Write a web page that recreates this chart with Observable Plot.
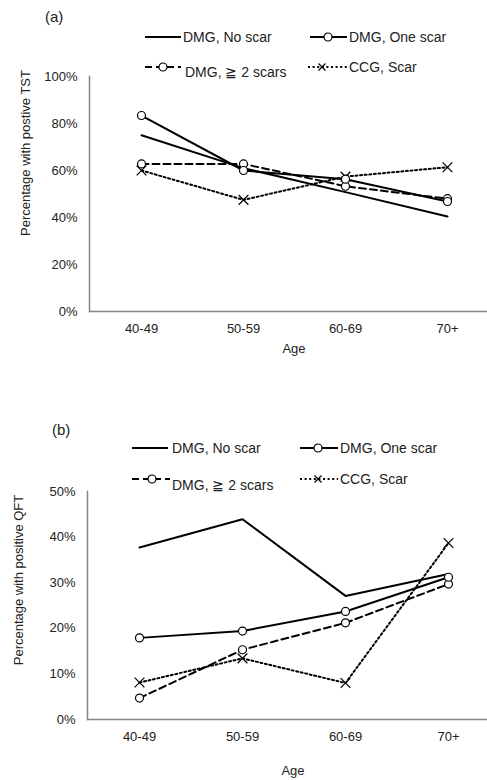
<!DOCTYPE html>
<html>
<head>
<meta charset="utf-8">
<script src="https://cdn.jsdelivr.net/npm/d3@7"></script>
<script src="https://cdn.jsdelivr.net/npm/@observablehq/plot@0.6"></script>
<style>
  body { margin: 0; background: #fff; }
  #wrap { position: relative; width: 487px; height: 780px; overflow: hidden; font-family: "Liberation Sans", Arial, sans-serif; color: #222; }
  .abs { position: absolute; white-space: nowrap; line-height: 1; }
  .vc { transform: translateY(-50%); }
  .plot { position: absolute; left: 0; }
  .rot { position: absolute; white-space: nowrap; font-size: 13px; line-height: 1; transform: translate(-50%, -50%) rotate(-90deg); }
</style>
</head>
<body>
<div id="wrap"></div>
<script>
const ages = ["40-49", "50-59", "60-69", "70+"];
const seriesNames = ["DMG, No scar", "DMG, One scar", "DMG, \u2267 2 scars", "CCG, Scar"];

// Panel (a): percentage with positive TST
const tstNoScar   = [75.0, 61.0, 50.8, 40.4];
const tstOneScar  = [83.4, 60.0, 56.3, 46.8];
const tstTwoScars = [62.8, 62.8, 53.3, 48.0];
const tstCCG      = [60.0, 47.5, 57.4, 61.4];
const tstTicks = [0, 20, 40, 60, 80, 100];

// Panel (b): percentage with positive QFT
const qftNoScar   = [37.7, 43.9, 27.1, 31.9];
const qftOneScar  = [17.9, 19.4, 23.7, 31.2];
const qftTwoScars = [4.7, 15.3, 21.2, 29.7];
const qftCCG      = [8.1, 13.4, 8.0, 38.7];
const qftTicks = [0, 10, 20, 30, 40, 50];

const wrap = document.getElementById("wrap");
const rows = vals => ages.map((a, i) => ({age: a, v: vals[i]}));

function makePanel(cfg) {
  const [no, one, two, ccg] = cfg.series.map(rows);
  const chart = Plot.plot({
    width: 487,
    height: cfg.height,
    marginTop: cfg.marginTop,
    marginBottom: cfg.marginBottom,
    marginLeft: cfg.marginLeft,
    marginRight: 0,
    style: {fontSize: "13px", fontFamily: "'Liberation Sans', Arial, sans-serif", color: "#222", background: "transparent", overflow: "visible"},
    x: {type: "point", domain: ages, range: cfg.xRange, padding: 0},
    y: {domain: [0, cfg.ticks[cfg.ticks.length - 1]]},
    marks: [
      Plot.frame({anchor: "left", stroke: "#858585", strokeWidth: 1.5}),
      Plot.ruleY([0], {stroke: "#858585", strokeWidth: 1.5}),
      Plot.axisY({ticks: cfg.ticks, tickSize: 0, tickPadding: 12, tickFormat: d => d + "%", label: null}),
      Plot.axisX({tickSize: 0, tickPadding: 12, label: null}),
      Plot.line(ccg, {x: "age", y: "v", stroke: "#000", strokeWidth: 2, strokeDasharray: "2,2.6"}),
      Plot.line(two, {x: "age", y: "v", stroke: "#000", strokeWidth: 2, strokeDasharray: "7,4"}),
      Plot.line(no, {x: "age", y: "v", stroke: "#000", strokeWidth: 2}),
      Plot.line(one, {x: "age", y: "v", stroke: "#000", strokeWidth: 2}),
      Plot.dot(ccg, {x: "age", y: "v", symbol: "times", r: 4.5, stroke: "#000", strokeWidth: 1.2}),
      Plot.dot(two, {x: "age", y: "v", r: 4, fill: "#fff", stroke: "#000", strokeWidth: 1.2}),
      Plot.dot(one, {x: "age", y: "v", r: 4, fill: "#fff", stroke: "#000", strokeWidth: 1.2})
    ]
  });
  chart.classList.add("plot");
  chart.style.top = cfg.top + "px";
  wrap.appendChild(chart);
}

function text(str, x, y, size) {
  const d = document.createElement("div");
  d.className = "abs vc";
  d.style.left = x + "px";
  d.style.top = y + "px";
  d.style.fontSize = size + "px";
  d.textContent = str;
  wrap.appendChild(d);
}
function centered(str, x, y, size) {
  const d = document.createElement("div");
  d.className = "abs";
  d.style.left = x + "px";
  d.style.top = y + "px";
  d.style.fontSize = size + "px";
  d.style.transform = "translate(-50%, -50%)";
  d.textContent = str;
  wrap.appendChild(d);
}
function vlabel(str, x, y) {
  const d = document.createElement("div");
  d.className = "rot";
  d.style.left = x + "px";
  d.style.top = y + "px";
  d.textContent = str;
  wrap.appendChild(d);
}
// legend sample: kind 0 solid, 1 solid+circle, 2 dashed+circle, 3 dotted+times
function sample(kind, x1, x2, y, mx) {
  const ns = "http://www.w3.org/2000/svg";
  const svg = document.createElementNS(ns, "svg");
  svg.setAttribute("width", 487);
  svg.setAttribute("height", 20);
  svg.style.position = "absolute";
  svg.style.left = "0px";
  svg.style.top = (y - 10) + "px";
  const line = document.createElementNS(ns, "line");
  line.setAttribute("x1", x1); line.setAttribute("x2", x2);
  line.setAttribute("y1", 10); line.setAttribute("y2", 10);
  line.setAttribute("stroke", "#000");
  line.setAttribute("stroke-width", 2);
  if (kind === 2) line.setAttribute("stroke-dasharray", "7,4");
  if (kind === 3) line.setAttribute("stroke-dasharray", "2,2.6");
  svg.appendChild(line);
  if (kind === 1 || kind === 2) {
    const c = document.createElementNS(ns, "circle");
    c.setAttribute("cx", mx); c.setAttribute("cy", 10); c.setAttribute("r", 4);
    c.setAttribute("fill", "#fff"); c.setAttribute("stroke", "#000"); c.setAttribute("stroke-width", 1.2);
    svg.appendChild(c);
  }
  if (kind === 3) {
    const p = document.createElementNS(ns, "path");
    p.setAttribute("d", `M${mx-3.5},6.5L${mx+3.5},13.5M${mx-3.5},13.5L${mx+3.5},6.5`);
    p.setAttribute("stroke", "#000"); p.setAttribute("stroke-width", 1.2); p.setAttribute("fill", "#fff");
    svg.appendChild(p);
  }
  wrap.appendChild(svg);
}

// Panel (a)
makePanel({series: [tstNoScar, tstOneScar, tstTwoScars, tstCCG], ticks: tstTicks,
  top: 0, height: 360, marginTop: 76, marginBottom: 49, marginLeft: 89, xRange: [140, 448]});
text("(a)", 45, 16, 15);
sample(0, 145, 181, 37);
text(seriesNames[0], 183, 37, 14);
sample(1, 310, 347, 37, 328);
text(seriesNames[1], 349, 37, 14);
sample(2, 145, 181, 67, 163);
text(seriesNames[2], 185, 72, 14);
sample(3, 308, 347, 67, 322);
text(seriesNames[3], 349, 67, 14);
vlabel("Percentage with postive TST", 25, 153);
centered("Age", 294, 348, 13);

// Panel (b)
makePanel({series: [qftNoScar, qftOneScar, qftTwoScars, qftCCG], ticks: qftTicks,
  top: 400, height: 380, marginTop: 91, marginBottom: 61, marginLeft: 87, xRange: [138, 448]});
text("(b)", 52, 429, 15);
sample(0, 132, 168, 448);
text(seriesNames[0], 172, 448, 14);
sample(1, 300, 338, 448, 318);
text(seriesNames[1], 340, 448, 14);
sample(2, 132, 170, 479, 152);
text(seriesNames[2], 172, 485, 14);
sample(3, 300, 338, 479, 318);
text(seriesNames[3], 340, 479, 14);
vlabel("Percentage with positive QFT", 18, 580);
centered("Age", 293, 770, 13);
</script>
</body>
</html>
